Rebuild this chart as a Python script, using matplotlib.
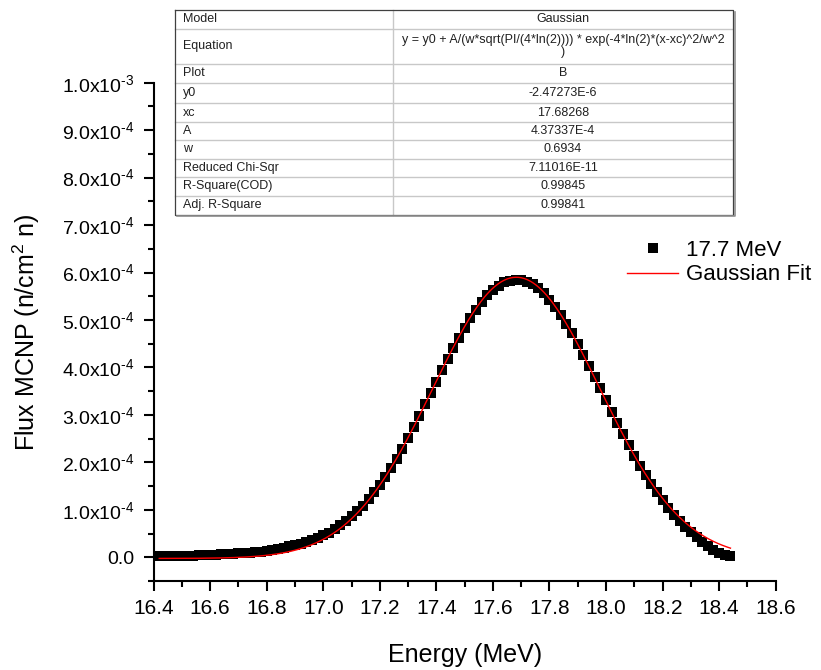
import numpy as np
import matplotlib
matplotlib.use("Agg")
import matplotlib.pyplot as plt
from matplotlib.ticker import MultipleLocator, FuncFormatter

plt.rcParams['font.family'] = ['Liberation Sans', 'DejaVu Sans']
plt.rcParams['mathtext.fontset'] = 'custom'
plt.rcParams['mathtext.rm'] = 'Liberation Sans'

# MCNP flux spectrum, 17.7 MeV line (flux in units of 1e-4 n/cm^2 n)
energy = [16.42, 16.44, 16.46, 16.48, 16.50, 16.52, 16.54, 16.56, 16.58, 16.60,
          16.62, 16.64, 16.66, 16.68, 16.70, 16.72, 16.74, 16.76, 16.78, 16.80,
          16.82, 16.84, 16.86, 16.88, 16.90, 16.92, 16.94, 16.96, 16.98, 17.00,
          17.02, 17.04, 17.06, 17.08, 17.10, 17.12, 17.14, 17.16, 17.18, 17.20,
          17.22, 17.24, 17.26, 17.28, 17.30, 17.32, 17.34, 17.36, 17.38, 17.40,
          17.42, 17.44, 17.46, 17.48, 17.50, 17.52, 17.54, 17.56, 17.58, 17.60,
          17.62, 17.64, 17.66, 17.68, 17.70, 17.72, 17.74, 17.76, 17.78, 17.80,
          17.82, 17.84, 17.86, 17.88, 17.90, 17.92, 17.94, 17.96, 17.98, 18.00,
          18.02, 18.04, 18.06, 18.08, 18.10, 18.12, 18.14, 18.16, 18.18, 18.20,
          18.22, 18.24, 18.26, 18.28, 18.30, 18.32, 18.34, 18.36, 18.38, 18.40,
          18.42, 18.44]
flux_e4 = [0.02, 0.02, 0.02, 0.03, 0.03, 0.03, 0.03, 0.04, 0.04, 0.05,
           0.05, 0.06, 0.06, 0.07, 0.08, 0.09, 0.10, 0.11, 0.12, 0.14,
           0.16, 0.18, 0.20, 0.23, 0.26, 0.29, 0.32, 0.36, 0.41, 0.46,
           0.52, 0.59, 0.67, 0.76, 0.86, 0.97, 1.09, 1.22, 1.37, 1.53,
           1.70, 1.88, 2.08, 2.29, 2.51, 2.74, 2.98, 3.22, 3.46, 3.70,
           3.94, 4.18, 4.41, 4.63, 4.84, 5.04, 5.22, 5.38, 5.52, 5.63,
           5.72, 5.79, 5.83, 5.85, 5.84, 5.81, 5.75, 5.67, 5.56, 5.43,
           5.28, 5.11, 4.92, 4.72, 4.50, 4.27, 4.04, 3.80, 3.56, 3.32,
           3.07, 2.83, 2.59, 2.36, 2.14, 1.93, 1.73, 1.54, 1.37, 1.20,
           1.04, 0.90, 0.77, 0.64, 0.53, 0.42, 0.33, 0.24, 0.16, 0.10,
           0.05, 0.02]

# fit parameters (from the results table)
y0 = -2.47273E-6
xc = 17.68268
A = 4.37337E-4
w = 0.6934

table_rows = [
    ("Model", "Gaussian"),
    ("Equation", "y = y0 + A/(w*sqrt(PI/(4*ln(2)))) * exp(-4*ln(2)*(x-xc)^2/w^2\n)"),
    ("Plot", "B"),
    ("y0", "-2.47273E-6"),
    ("xc", "17.68268"),
    ("A", "4.37337E-4"),
    ("w", "0.6934"),
    ("Reduced Chi-Sqr", "7.11016E-11"),
    ("R-Square(COD)", "0.99845"),
    ("Adj. R-Square", "0.99841"),
]

x = np.array(energy)
y = np.array(flux_e4) * 1e-4
xf = np.linspace(x[0], x[-1], 400)
yf = y0 + A / (w * np.sqrt(np.pi / (4 * np.log(2)))) * np.exp(-4 * np.log(2) * (xf - xc) ** 2 / w ** 2)

W, H = 821, 670
fig = plt.figure(figsize=(W / 100, H / 100), dpi=100)
ax = fig.add_axes([153.6 / W, 1 - 581 / H, (775.7 - 153.6) / W, (581 - 82.7) / H])

ax.plot(x, y, 's', color='black', markersize=7.2, markeredgewidth=0, label='17.7 MeV', clip_on=False)
ax.plot(xf, yf, '-', color='#ff0000', lw=1.0, label='Gaussian Fit')

ax.set_xlim(16.4, 18.6)
ax.set_ylim(-0.5e-4, 1.0e-3)
ax.xaxis.set_major_locator(MultipleLocator(0.2))
ax.xaxis.set_minor_locator(MultipleLocator(0.1))
ax.yaxis.set_major_locator(MultipleLocator(1e-4))
ax.yaxis.set_minor_locator(MultipleLocator(0.5e-4))
ax.xaxis.set_major_formatter(FuncFormatter(lambda v, p: f"{v:.1f}"))


def yfmt(v, p):
    if abs(v) < 1e-12:
        return "0.0"
    e = int(np.floor(np.log10(abs(v)) + 1e-9))
    m = v / 10 ** e
    # Origin style label: hyphen in the exponent, not a minus sign
    return r"$\mathregular{%.1fx10^{%s}}$" % (m, str(e).replace('-', '\u2010'))


ax.yaxis.set_major_formatter(FuncFormatter(yfmt))

for s in ['top', 'right']:
    ax.spines[s].set_visible(False)
for s in ['left', 'bottom']:
    ax.spines[s].set_linewidth(1.5)
ax.tick_params(which='major', direction='out', length=7, width=1.5, pad=6)
ax.tick_params(which='minor', direction='out', length=4, width=1.5)
ax.tick_params(axis='x', labelsize=15)
ax.tick_params(axis='y', labelsize=14, pad=7)

ax.set_xlabel("Energy (MeV)", fontsize=18, labelpad=18)
ax.set_ylabel(r"Flux MCNP (n/cm$^2$ n)", fontsize=18, labelpad=14)

ax.legend(loc='upper left', bbox_to_anchor=((627 - 153.6) / (775.7 - 153.6), (581 - 240) / (581 - 82.7)),
          frameon=False, fontsize=16, handlelength=2.3, handletextpad=0.35,
          labelspacing=0.15, borderpad=0, borderaxespad=0)

# results table, drawn in pixel coordinates
tl, tr, tt, tb = 175, 733, 10, 215
col_split = 393
row_edges = [10, 29, 64, 83, 103, 122, 140, 159, 177, 196, 215]
tax = fig.add_axes([tl / W, 1 - tb / H, (tr - tl) / W, (tb - tt) / H])
tax.set_xlim(tl, tr)
tax.set_ylim(tb, tt)
tax.axis('off')
tax.add_patch(plt.Rectangle((tl, tt), tr - tl, tb - tt, facecolor='white', edgecolor='none', zorder=0))
for yy in row_edges[1:-1]:
    tax.plot([tl, tr], [yy, yy], color='#c8c8c8', lw=1.0, clip_on=False)
tax.plot([col_split, col_split], [tt, tb], color='#c8c8c8', lw=1.0, clip_on=False)
tax.plot([tl, tr, tr, tl, tl], [tt, tt, tb, tb, tt], color='#404040', lw=0.9, clip_on=False)
tax.plot([tl + 2, tr + 1.5, tr + 1.5], [tb + 1.5, tb + 1.5, tt + 2], color='#909090', lw=1.2, clip_on=False)
for i, (name, val) in enumerate(table_rows):
    yc = (row_edges[i] + row_edges[i + 1]) / 2
    tax.text(tl + 8, yc, name, fontsize=9, ha='left', va='center', color='#202020')
    tax.text((col_split + tr) / 2, yc, val, fontsize=9, ha='center', va='center',
             color='#202020', linespacing=1.0, multialignment='center')

fig.savefig("out.png", dpi=100)
